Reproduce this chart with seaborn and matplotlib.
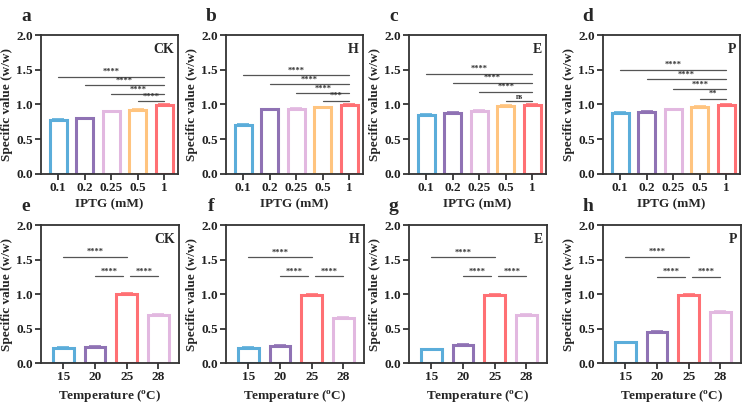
import numpy as np
import pandas as pd
import matplotlib
matplotlib.use('Agg')
import matplotlib.pyplot as plt
import seaborn as sns

sns.set_style('ticks')
plt.rcParams['font.family'] = 'serif'
plt.rcParams['font.serif'] = ['Liberation Serif', 'DejaVu Serif']
plt.rcParams['font.weight'] = 'bold'
plt.rcParams['mathtext.fontset'] = 'custom'
plt.rcParams['mathtext.rm'] = 'Liberation Serif:bold'
plt.rcParams['mathtext.bf'] = 'Liberation Serif:bold'

# IPTG series (top row)
iptg_labels = ['0.1', '0.2', '0.25', '0.5', '1']
iptg_ck = [0.78, 0.80, 0.90, 0.92, 0.995]
iptg_h = [0.71, 0.93, 0.94, 0.96, 0.99]
iptg_e = [0.85, 0.88, 0.91, 0.98, 0.99]
iptg_p = [0.88, 0.89, 0.93, 0.965, 0.99]
iptg_sd = [0.01, 0.01, 0.01, 0.01, 0.015]
iptg_sig_ck = ['****', '****', '****', '****']
iptg_sig_h = ['****', '****', '****', '***']
iptg_sig_e = ['****', '****', '****', 'ns']
iptg_sig_p = ['****', '****', '****', '**']

# Temperature series (bottom row)
temp_labels = ['15', '20', '25', '28']
temp_ck = [0.22, 0.23, 0.995, 0.69]
temp_h = [0.22, 0.25, 0.99, 0.65]
temp_e = [0.20, 0.26, 0.99, 0.69]
temp_p = [0.30, 0.45, 0.99, 0.74]
temp_sd = [0.01, 0.01, 0.015, 0.015]
temp_sig = ['****', '****', '****']

blue, purple, pink, orange, red = '#5BADDA', '#8F72B4', '#E2B8E0', '#FFC47F', '#FF7074'
iptg_colors = [blue, purple, pink, orange, red]
temp_colors = [blue, purple, red, pink]

fig = plt.figure(figsize=(7.53, 4.11), dpi=100)
W, H = 753, 411
lefts = [41, 226, 409, 603]


def make_ax(left, top, bottom, width=137):
    return fig.add_axes([left / W, 1 - bottom / H, width / W, (bottom - top) / H])


def style_ax(ax, xlabel, tag, letter):
    ax.set_ylim(0, 2.0)
    ax.set_yticks([0, 0.5, 1.0, 1.5, 2.0])
    ax.set_yticklabels(['0.0', '0.5', '1.0', '1.5', '2.0'])
    for s in ax.spines.values():
        s.set_linewidth(1.3)
        s.set_color('#333333')
    ax.tick_params(width=1.2, length=4, labelsize=9.5, colors='#222222', pad=2)
    plt.setp(ax.get_xticklabels() + ax.get_yticklabels(), fontweight='bold')
    ax.set_xlabel(xlabel, fontsize=9.5, fontweight='bold', labelpad=3)
    ax.set_ylabel('Specific value (w/w)', fontsize=9.5, fontweight='bold', labelpad=2)
    ax.text(0.97, 0.94, tag, transform=ax.transAxes, ha='right', va='top',
            fontsize=10, fontweight='bold')
    ax.text(-0.11, 1.10, letter, transform=ax.transAxes, ha='center', va='baseline',
            fontsize=14, fontweight='bold')
    if ax.get_legend() is not None:
        ax.get_legend().remove()


def draw_bars(ax, labels, vals, sd, colors):
    df = pd.DataFrame({'x': labels, 'y': vals})
    sns.barplot(data=df, x='x', y='y', hue='x', palette=colors, fill=False,
                linewidth=2.2, width=0.65, errorbar=None, legend=False, ax=ax)
    for i, (v, e) in enumerate(zip(vals, sd)):
        ax.errorbar(i, v, yerr=[[0], [e]], color=colors[i], capsize=4,
                    elinewidth=1.2, capthick=1.2)


def sig_line(ax, x0, x1, y, label):
    ax.plot([x0, x1], [y, y], color='#555555', lw=0.9)
    ax.text((x0 + x1) / 2, y + 0.01, label, ha='center', va='bottom',
            fontsize=6 if label != 'ns' else 5.5, fontweight='bold', color='#333333')


top_sets = [
    (iptg_ck, iptg_sig_ck, [1.40, 1.28, 1.15, 1.05], 'CK', 'a'),
    (iptg_h, iptg_sig_h, [1.42, 1.29, 1.16, 1.055], 'H', 'b'),
    (iptg_e, iptg_sig_e, [1.44, 1.31, 1.18, 1.045], 'E', 'c'),
    (iptg_p, iptg_sig_p, [1.50, 1.36, 1.22, 1.08], 'P', 'd'),
]
for left, (vals, sigs, ys, tag, letter) in zip(lefts, top_sets):
    ax = make_ax(left, 35, 174)
    draw_bars(ax, iptg_labels, vals, iptg_sd, iptg_colors)
    for i, (lab, y) in enumerate(zip(sigs, ys)):
        sig_line(ax, i, 4, y, lab)
    ax.set_xlim(-0.65, 4.52)
    style_ax(ax, 'IPTG (mM)', tag, letter)

bottom_sets = [
    (temp_ck, [1.54, 1.26], 'CK', 'e'),
    (temp_h, [1.535, 1.257], 'H', 'f'),
    (temp_e, [1.535, 1.257], 'E', 'g'),
    (temp_p, [1.54, 1.25], 'P', 'h'),
]
for left, (vals, ys, tag, letter) in zip(lefts, bottom_sets):
    ax = make_ax(left, 225, 363, 138)
    draw_bars(ax, temp_labels, vals, temp_sd, temp_colors)
    sig_line(ax, 0, 2, ys[0], temp_sig[0])
    sig_line(ax, 1, 1.9, ys[1], temp_sig[1])
    sig_line(ax, 2.1, 3, ys[1], temp_sig[2])
    ax.set_xlim(-0.7, 3.65)
    style_ax(ax, r'Temperature ($\mathregular{^o}$C)', tag, letter)

fig.savefig('out.png', dpi=100)
